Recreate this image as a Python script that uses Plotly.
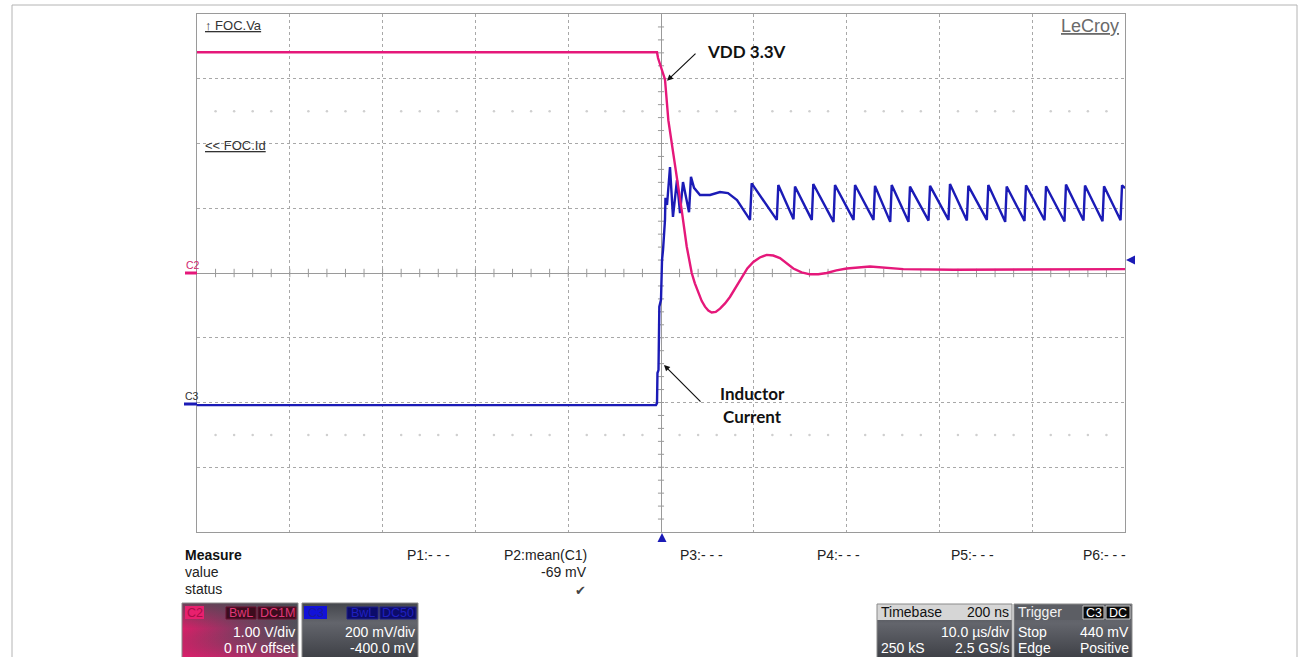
import plotly.graph_objects as go

# Channel C2 : VDD 3.3V rail  (1.00 V/div, 0 mV offset)
c2_time_us = [-50.0, -0.43, -0.32, 0.11, 0.43, 0.79, 1.33, 1.86, 2.23, 2.77,
              3.31, 3.65, 4.02, 4.38, 4.74, 5.10, 5.46, 5.90, 6.36, 6.90,
              7.43, 8.05, 8.70, 9.30, 9.95, 10.65, 11.39, 12.10, 12.82, 13.55,
              14.26, 15.15, 16.06, 16.95, 17.86, 18.90, 20.01, 22.52, 26.11, 31.50,
              38.69, 50.0]
c2_vdd_v = [3.41, 3.41, 3.32, 3.14, 2.99, 2.36, 1.85, 1.33, 0.97, 0.41,
            0.00, -0.16, -0.31, -0.43, -0.52, -0.58, -0.61, -0.60, -0.55, -0.47,
            -0.37, -0.22, -0.06, 0.07, 0.17, 0.24, 0.28, 0.27, 0.23, 0.15,
            0.07, 0.01, -0.02, -0.02, 0.00, 0.04, 0.07, 0.10, 0.06, 0.05,
            0.05, 0.06]

# Channel C3 : inductor current probe (200 mV/div, -400 mV offset)
c3_time_us = [-50.0, -0.54, -0.43, -0.38, -0.27, -0.18, 0.00, 0.11, 0.22, 0.43,
              0.48, 0.65, 0.97, 1.29, 1.72, 2.05, 2.37, 3.02, 3.23, 3.56,
              4.20, 5.28, 6.36, 7.22, 8.19, 9.38, 9.59,
              9.77, 12.48, 12.64, 14.28, 14.44, 16.25, 16.41, 18.59, 18.75, 20.75,
              20.91, 22.90, 23.06, 24.70, 24.86, 26.67, 26.83, 28.83, 28.99, 30.98,
              31.14, 32.96, 33.12, 35.11, 35.27, 37.09, 37.25, 39.17, 39.33, 41.33,
              41.49, 43.48, 43.64, 45.53, 45.69, 47.58, 47.74, 49.52, 49.68, 50.0]
c3_il_mv = [-8, -8, -2, 91, 100, 296, 317, 440, 471, 564,
            632, 610, 727, 573, 687, 585, 681, 588, 697, 663,
            641, 641, 650, 647, 625, 570, 564,
            677, 564, 672, 566, 667, 564, 675, 558, 672, 564,
            672, 564, 669, 558, 672, 558, 667, 562, 669, 564,
            675, 562, 669, 564, 672, 558, 667, 561, 671, 563,
            668, 559, 673, 562, 670, 560, 668, 563, 671, 662]

# channel settings
C2_VDIV, C2_OFFSET = 1.0, 0.0        # V/div, V
C3_VDIV, C3_OFFSET = 200.0, -400.0   # mV/div, mV
TDIV = 10.0                          # us/div
TRIG_LEVEL_MV = 440.0

# labels
measure_cols = ["P1:- - -", "P2:mean(C1)", "P3:- - -", "P4:- - -", "P5:- - -", "P6:- - -"]
measure_value = "-69 mV"

# ---------------- geometry ----------------
W, H = 1309, 657
PX0, PX1, PY0, PY1 = 197, 1125, 14, 532

PINK = "#e5187a"
BLUE = "#1b1bb6"
GRIDC = "#a8a8a8"
FRAMEC = "#9a9a9a"
FONT = "Liberation Sans, Arial, DejaVu Sans"

c2_div = [(v + C2_OFFSET) / C2_VDIV for v in c2_vdd_v]
c3_div = [(m + C3_OFFSET) / C3_VDIV for m in c3_il_mv]
trig_div = (TRIG_LEVEL_MV + C3_OFFSET) / C3_VDIV

fig = go.Figure()

# faint sub-division dot rows
dot_x = [x for x in range(-48, 49, 2) if x % 10 != 0]
for yy in (2.5, -2.5):
    fig.add_trace(go.Scatter(x=dot_x, y=[yy] * len(dot_x), mode="markers",
                             marker=dict(size=2.5, color="#cfcfcf"),
                             hoverinfo="skip", showlegend=False))

fig.add_trace(go.Scatter(x=c3_time_us, y=c3_div, mode="lines",
                         line=dict(color=BLUE, width=2.4), name="C3",
                         hoverinfo="skip", showlegend=False))
fig.add_trace(go.Scatter(x=c2_time_us, y=c2_div, mode="lines",
                         line=dict(color=PINK, width=2.4),
                         name="C2", hoverinfo="skip", showlegend=False))


# ---------- decoration helpers (pixel-space axis x2/y2) ----------
def grad_box(x0, y0, x1, y1, typ, cs):
    if typ == "horizontal":
        start, stop = x0, x1
    else:
        start, stop = y0, y1
    fig.add_trace(go.Scatter(x=[x0, x1, x1, x0, x0], y=[y0, y0, y1, y1, y0],
                             mode="lines", line=dict(width=0, color="rgba(0,0,0,0)"),
                             fill="toself",
                             fillgradient=dict(type=typ, colorscale=cs, start=start, stop=stop),
                             xaxis="x2", yaxis="y2", hoverinfo="skip", showlegend=False))


shapes = []
annots = []


def rect(x0, y0, x1, y1, fill, line=None, lw=1):
    shapes.append(dict(type="rect", xref="x2", yref="y2", x0=x0, y0=y0, x1=x1, y1=y1,
                       fillcolor=fill, line=dict(color=line or "rgba(0,0,0,0)", width=lw if line else 0)))


def txt(x, y, s, anchor="left", size=13.5, color="#222", family=FONT):
    annots.append(dict(xref="x2", yref="y2", x=x, y=y, text=s, showarrow=False,
                       xanchor=anchor, yanchor="middle",
                       font=dict(family=family, size=size, color=color)))


# centre crosshair tick marks
tick_path = ""
for i in range(-24, 25):
    if i == 0:
        continue
    x = i * TDIV / 5
    tick_path += f"M{x},-0.065L{x},0.065"
for i in range(-19, 20):
    if i == 0:
        continue
    y = i / 5
    tick_path += f"M-0.33,{y}L0.33,{y}"
shapes.append(dict(type="path", xref="x", yref="y", path=tick_path, layer="between",
                   line=dict(color=FRAMEC, width=1)))

# outer document frame
rect(12, 5, 1297, 662, "rgba(0,0,0,0)", "#b4b4b4", 1)

# channel markers on the left
shapes.append(dict(type="line", xref="x2", yref="y2", x0=185, x1=197, y0=273, y1=273,
                   line=dict(color=PINK, width=3)))
shapes.append(dict(type="line", xref="x2", yref="y2", x0=184, x1=197, y0=404, y1=404,
                   line=dict(color=BLUE, width=3)))
txt(184, 265, "C2", size=10.5, color="#d0286e")
txt(183, 396, "C3", size=10.5, color="#333")

# trigger position / level markers
shapes.append(dict(type="path", xref="x2", yref="y2", path="M657.5,542L666.5,542L662,533Z",
                   fillcolor=BLUE, line=dict(width=0)))
trig_py = PY0 + (4 - trig_div) / 8 * (PY1 - PY0)
shapes.append(dict(type="path", xref="x2", yref="y2",
                   path=f"M1126,{trig_py}L1135,{trig_py-4.5}L1135,{trig_py+4.5}Z",
                   fillcolor=BLUE, line=dict(width=0)))

# top-left trace labels & logo
txt(203, 25, "<u>↑ FOC.Va</u>", size=13, color="#333")
txt(203, 145, "<u>&lt;&lt; FOC.Id</u>", size=13, color="#333")
txt(1121, 26, "<u>LeCroy</u>", anchor="right", size=18, color="#6a6a6a")

# measurement table
txt(183, 555, "<b>Measure</b>", size=14, color="#111")
txt(183, 572, "value", size=14)
txt(183, 589, "status", size=14)
txt(405, 555, measure_cols[0], size=14)
txt(589, 555, measure_cols[1], anchor="right", size=14)
txt(589, 572, measure_value, anchor="right", size=14)
txt(588, 590, "✔", anchor="right", size=13, color="#444", family="DejaVu Sans")
txt(678, 555, measure_cols[2], size=14)
txt(815, 555, measure_cols[3], size=14)
txt(949, 555, measure_cols[4], size=14)
txt(1128, 555, measure_cols[5], anchor="right", size=14)

# C2 channel box
grad_box(182, 603, 298, 660, "horizontal",
         [[0, "#d81f68"], [0.45, "#8a3862"], [1, "#4f5159"]])
grad_box(182, 603, 298, 660, "vertical",
         [[0, "rgba(72,74,82,0.75)"], [0.45, "rgba(72,74,82,0.0)"], [1, "rgba(238,24,112,0.6)"]])
rect(182, 603, 298, 660, "rgba(0,0,0,0)", "#8a8a8a", 1)
rect(185, 606, 204, 619, "#e8206e")
txt(194.5, 612.5, "C2", anchor="center", size=12.5, color="#a80d48")
rect(226, 607, 256, 619, "#3c0c1e", "#6a1030", 1)
txt(241, 613, "BwL", anchor="center", size=12.5, color="#e03878")
rect(258, 607, 296, 619, "#3c0c1e", "#6a1030", 1)
txt(277, 613, "DC1M", anchor="center", size=12.5, color="#e03878")
txt(297, 632, "1.00 V/div", anchor="right", size=14, color="#ffffff")
txt(297, 648, "0 mV offset", anchor="right", size=14, color="#ffffff")

# C3 channel box
grad_box(302, 603, 418, 660, "vertical",
         [[0, "#44464c"], [0.35, "#63656c"], [1, "#3c3e44"]])
rect(302, 603, 418, 660, "rgba(0,0,0,0)", "#8a8a8a", 1)
rect(304, 606, 327, 619, "#1212d8")
txt(315.5, 612.5, "C3", anchor="center", size=12.5, color="#1a1a9a")
rect(347, 607, 378, 619, "#0c0c6a", "#20208a", 1)
txt(362.5, 613, "BwL", anchor="center", size=12.5, color="#2020c0")
rect(380, 607, 416, 619, "#0c0c6a", "#20208a", 1)
txt(398, 613, "DC50", anchor="center", size=12.5, color="#2020c0")
txt(417, 632, "200 mV/div", anchor="right", size=14, color="#ffffff")
txt(417, 648, "-400.0 mV", anchor="right", size=14, color="#ffffff")

# Timebase box
grad_box(877, 604, 1012, 660, "vertical",
         [[0, "#44464c"], [0.35, "#63656c"], [1, "#3c3e44"]])
rect(877, 604, 1012, 620, "#d6d6d6")
rect(877, 604, 1012, 660, "rgba(0,0,0,0)", "#8a8a8a", 1)
txt(879, 612, "Timebase", size=14, color="#111")
txt(1011, 612, "200 ns", anchor="right", size=14, color="#111")
txt(1011, 632, "10.0 µs/div", anchor="right", size=14, color="#ffffff")
txt(879, 648, "250 kS", size=14, color="#ffffff")
txt(1011, 648, "2.5 GS/s", anchor="right", size=14, color="#ffffff")

# Trigger box
grad_box(1014, 604, 1132, 660, "vertical",
         [[0, "#5a5c62"], [0.35, "#63656c"], [1, "#3c3e44"]])
rect(1014, 604, 1132, 620, "#5c5e64")
rect(1014, 604, 1132, 660, "rgba(0,0,0,0)", "#8a8a8a", 1)
txt(1016, 612, "Trigger", size=14, color="#f2f2f2")
rect(1083, 606, 1104, 619, "#0a0a0a", "#cccccc", 1)
txt(1093.5, 612.5, "C3", anchor="center", size=12.5, color="#ffffff")
rect(1106, 606, 1130, 619, "#0a0a0a", "#cccccc", 1)
txt(1118, 612.5, "DC", anchor="center", size=12.5, color="#ffffff")
txt(1016, 632, "Stop", size=14, color="#ffffff")
txt(1131, 632, "440 mV", anchor="right", size=14, color="#ffffff")
txt(1016, 648, "Edge", size=14, color="#ffffff")
txt(1131, 648, "Positive", anchor="right", size=14, color="#ffffff")

# callouts
annots.append(dict(xref="x", yref="y", axref="x", ayref="y", x=0.65, y=2.97, ax=3.88, ay=3.41,
                   text="", showarrow=True, arrowhead=2, arrowsize=1, arrowwidth=1.2,
                   arrowcolor="#111"))
annots.append(dict(xref="x", yref="y", axref="x", ayref="y", x=0.32, y=-1.42, ax=4.42, ay=-2.01,
                   text="", showarrow=True, arrowhead=2, arrowsize=1, arrowwidth=1.2,
                   arrowcolor="#111"))
txt(705, 51, "<b>VDD 3.3V</b>", size=17, color="#111", family="Lato, DejaVu Sans")
txt(752, 393, "<b>Inductor</b>", anchor="center", size=17, color="#111", family="Lato, DejaVu Sans")
txt(752, 416, "<b>Current</b>", anchor="center", size=17, color="#111", family="Lato, DejaVu Sans")

fig.update_layout(
    width=W, height=H,
    margin=dict(l=0, r=0, t=0, b=0),
    paper_bgcolor="#ffffff", plot_bgcolor="rgba(0,0,0,0)",
    showlegend=False,
    xaxis=dict(domain=[PX0 / W, PX1 / W], range=[-5 * TDIV, 5 * TDIV],
               tickvals=[i * TDIV for i in range(-4, 5) if i != 0],
               showticklabels=False, ticks="",
               showgrid=True, gridcolor=GRIDC, gridwidth=1, griddash="dot",
               zeroline=True, zerolinecolor=FRAMEC, zerolinewidth=1,
               showline=True, mirror=True, linecolor=FRAMEC, linewidth=1,
               fixedrange=True),
    yaxis=dict(domain=[1 - PY1 / H, 1 - PY0 / H], range=[-4, 4],
               tickvals=[i for i in range(-3, 4) if i != 0],
               showticklabels=False, ticks="",
               showgrid=True, gridcolor=GRIDC, gridwidth=1, griddash="dot",
               zeroline=True, zerolinecolor=FRAMEC, zerolinewidth=1,
               showline=True, mirror=True, linecolor=FRAMEC, linewidth=1,
               fixedrange=True),
    xaxis2=dict(domain=[0, 1], range=[0, W], anchor="y2", visible=False, fixedrange=True),
    yaxis2=dict(domain=[0, 1], range=[H, 0], anchor="x2", visible=False, fixedrange=True),
    shapes=shapes,
    annotations=annots,
    font=dict(family=FONT),
)

fig.write_html("out.html", post_script="document.body.style.margin='0';",
               config={"displayModeBar": False})
